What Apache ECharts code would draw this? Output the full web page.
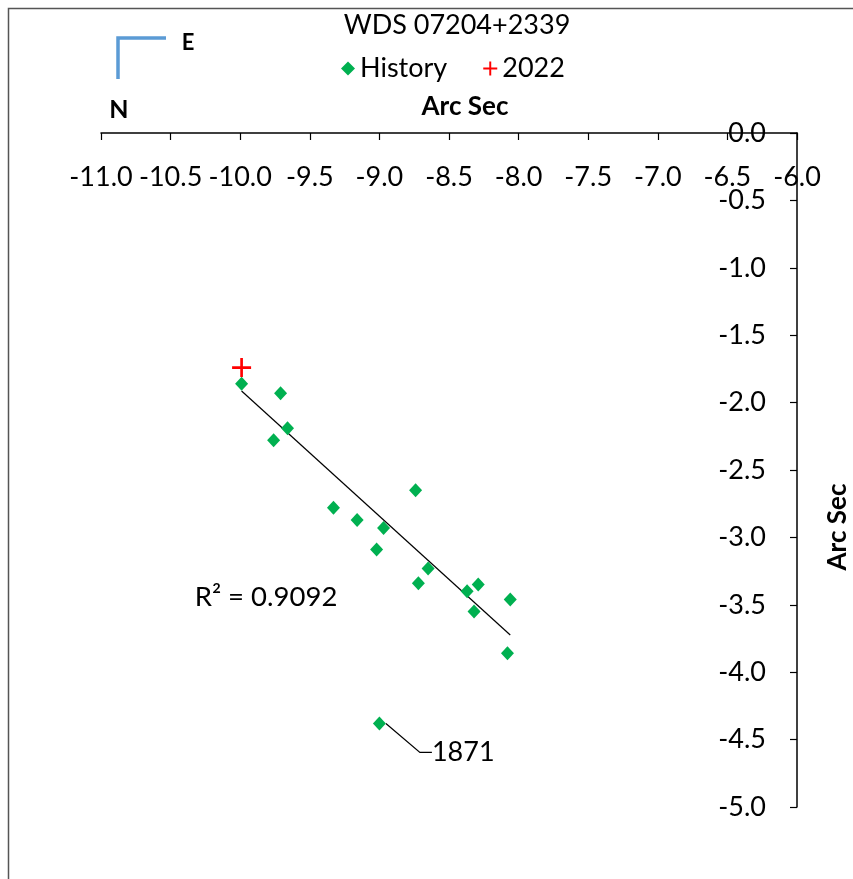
<!DOCTYPE html>
<html>
<head>
<meta charset="utf-8">
<script src="https://cdn.jsdelivr.net/npm/echarts@6/dist/echarts.min.js"></script>
<style>
html,body{margin:0;padding:0;background:#fff;}
#chart{width:853px;height:879px;}
</style>
</head>
<body>
<div id="chart"></div>
<script>
// ---- data ----
const titleText = 'WDS 07204+2339';
const historyX = [-9.99, -9.71, -9.66, -9.76, -8.74, -9.33, -9.16, -8.97, -9.02, -8.65, -8.72, -8.37, -8.29, -8.32, -8.06, -8.08];
const historyY = [-1.86, -1.93, -2.19, -2.28, -2.65, -2.78, -2.87, -2.93, -3.09, -3.23, -3.34, -3.40, -3.35, -3.55, -3.46, -3.86];
const point1871 = [-9.00, -4.38];
const label1871 = '1871';
const point2022 = [-9.99, -1.74];
const trendX = [-9.99, -8.06];
const trendY = [-1.914, -3.724];
const rSquared = '0.9092';
const xTicks = {min: -11, max: -6, interval: 0.5};
const yTicks = {min: -5, max: 0, interval: 0.5};
const axisName = 'Arc Sec';

const FONT = 'Lato';
const plusPath = 'path://M4.3,0H5.7V4.3H10V5.7H5.7V10H4.3V5.7H0V4.3H4.3Z';

const chart = echarts.init(document.getElementById('chart'), null, {renderer: 'canvas'});

const historyData = historyX.map((x, i) => [x, historyY[i]]);
const trendData = trendX.map((x, i) => [x, trendY[i]]);

const option = {
  backgroundColor: '#fff',
  animation: false,
  textStyle: {fontFamily: FONT},
  title: {
    text: titleText,
    left: 452,
    textAlign: 'center',
    top: 7,
    textStyle: {fontFamily: FONT, fontSize: 27, fontWeight: 'normal', color: '#000'}
  },
  legend: {
    top: 50,
    left: 336,
    itemGap: 36,
    itemWidth: 14,
    itemHeight: 14,
    textStyle: {fontFamily: FONT, fontSize: 27, color: '#000'},
    data: [
      {name: 'History', icon: 'diamond', itemStyle: {color: '#00B050'}},
      {name: '2022', icon: plusPath, itemStyle: {color: '#FF0000'}}
    ]
  },
  grid: {left: 101, right: 56, top: 133, bottom: 72, containLabel: false, outerBoundsMode: 'none'},
  xAxis: {
    type: 'value',
    position: 'top',
    min: xTicks.min, max: xTicks.max, interval: xTicks.interval,
    name: axisName,
    nameLocation: 'middle',
    nameGap: 13,
    nameTextStyle: {fontFamily: FONT, fontSize: 26, fontWeight: 'bold', color: '#000', padding: [0, 0, 0, 32]},
    axisLine: {show: true, onZero: false, lineStyle: {color: '#000', width: 1.5}},
    axisTick: {show: true, inside: true, length: 7, lineStyle: {color: '#000', width: 1.2}},
    axisLabel: {inside: true, margin: 31, fontFamily: FONT, fontSize: 27, color: '#000',
      formatter: v => v.toFixed(1)},
    splitLine: {show: false}
  },
  yAxis: {
    type: 'value',
    position: 'right',
    min: yTicks.min, max: yTicks.max, interval: yTicks.interval,
    axisLine: {show: true, onZero: false, lineStyle: {color: '#000', width: 1.5}},
    axisTick: {show: true, inside: true, length: 7, lineStyle: {color: '#000', width: 1.2}},
    axisLabel: {inside: true, margin: 31, fontFamily: FONT, fontSize: 27, color: '#000',
      formatter: v => v.toFixed(1)},
    splitLine: {show: false}
  },
  graphic: [
    {type: 'rect', silent: true, shape: {x: 8.5, y: 8.5, width: 1000, height: 1000},
      style: {fill: 'none', stroke: '#555', lineWidth: 1.5}},
    {type: 'polyline', silent: true, shape: {points: [[118, 79], [118, 38], [166, 38]]},
      style: {fill: 'none', stroke: '#5B9BD5', lineWidth: 3.5}},
    {type: 'text', silent: true, x: 188, y: 43,
      style: {text: 'E', font: 'bold 22px ' + FONT, fill: '#000', align: 'center', verticalAlign: 'middle'}},
    {type: 'text', silent: true, x: 119, y: 110,
      style: {text: 'N', font: 'bold 25px ' + FONT, fill: '#000', align: 'center', verticalAlign: 'middle'}},
    {type: 'text', silent: true, x: 838, y: 527, rotation: Math.PI / 2,
      style: {text: axisName, font: 'bold 26px ' + FONT, fill: '#000', align: 'center', verticalAlign: 'middle'}},
    {type: 'text', silent: true, x: 266, y: 597,
      style: {text: 'R\u00B2 = ' + rSquared, font: '27.5px ' + FONT, fill: '#000', align: 'center', verticalAlign: 'middle'}}
  ],
  series: [
    {
      name: 'Trend',
      type: 'line',
      data: trendData,
      showSymbol: false,
      symbol: 'none',
      lineStyle: {color: '#000', width: 1.2},
      z: 1,
      silent: true
    },
    {
      name: 'History',
      type: 'scatter',
      data: historyData,
      symbol: 'diamond',
      symbolSize: [13, 14],
      itemStyle: {color: '#00B050', opacity: 1},
      z: 3
    },
    {
      name: 'History',
      type: 'scatter',
      data: [point1871],
      symbol: 'diamond',
      symbolSize: [13, 14],
      itemStyle: {color: '#00B050', opacity: 1},
      label: {show: true, position: 'right', formatter: label1871, fontFamily: FONT, fontSize: 27, color: '#000'},
      labelLayout: {dx: 41, dy: 29},
      labelLine: {show: true, length2: 12, lineStyle: {color: '#000', width: 1.2}},
      z: 3
    },
    {
      name: '2022',
      type: 'scatter',
      data: [point2022],
      symbol: plusPath,
      symbolSize: 19,
      itemStyle: {color: '#FF0000', opacity: 1},
      z: 4
    }
  ]
};
chart.setOption(option);
</script>
</body>
</html>
